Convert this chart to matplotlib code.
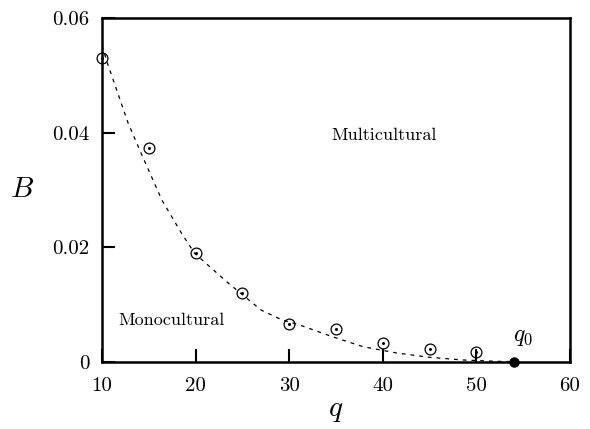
import numpy as np
import matplotlib
matplotlib.use('Agg')
import matplotlib.pyplot as plt

plt.rcParams.update({
    "font.family": "serif",
    "font.serif": ["cmr10", "DejaVu Serif"],
    "mathtext.fontset": "cm",
    "axes.formatter.use_mathtext": True,
})

# simulation points
q_pts = [10, 15, 20, 25, 30, 35, 40, 45, 50]
B_pts = [0.0531, 0.0373, 0.0189, 0.0119, 0.0066, 0.0057, 0.0032, 0.0022, 0.0016]

# dashed fit curve
curve_q = [10, 10.6, 12.8, 14.2, 16.4, 18.5, 19.9, 23.5, 27.0, 29.2, 31.1,
           34.7, 37.9, 41.5, 45.0, 48.6, 52.2, 54]
curve_B = [0.0552, 0.0520, 0.0416, 0.0363, 0.0282, 0.0224, 0.0189, 0.0137,
           0.0090, 0.0073, 0.0064, 0.0043, 0.0026, 0.0015, 0.00075, 0.00028,
           0.00005, 0.0]

q0 = 54

xticks = [10, 20, 30, 40, 50, 60]
yticks = [0, 0.02, 0.04, 0.06]
ytick_labels = ['0', '0.02', '0.04', '0.06']

fig = plt.figure(figsize=(5.9, 4.29), dpi=100)
ax = fig.add_axes([0.1729, 0.1571, 0.7932, 0.8009])

ax.plot(curve_q, curve_B, color='black', lw=0.9, ls=(0, (3, 4)))
ax.plot(q_pts, B_pts, 'o', ms=7.8, mfc='none', mec='black', mew=0.9, clip_on=False)
ax.plot(q_pts, B_pts, 'o', ms=1.2, color='black', clip_on=False)
ax.plot([q0], [0], 'o', ms=6.5, color='black', clip_on=False, zorder=5)

ax.text(34.5, 0.0395, 'Multicultural', fontsize=13, va='center', ha='left')
ax.text(11.7, 0.0072, 'Monocultural', fontsize=13, va='center', ha='left')
ax.text(55.0, 0.0043, r'$q_0$', fontsize=17, va='center', ha='center')

ax.set_xlim(10, 60)
ax.set_ylim(0, 0.06)
ax.set_xticks(xticks)
ax.set_xticklabels([str(v) for v in xticks])
ax.set_yticks(yticks)
ax.set_yticklabels(ytick_labels)
ax.tick_params(direction='in', length=9.5, width=1.5, labelsize=15, pad=9)
ax.tick_params(axis='x', pad=11)
for s in ax.spines.values():
    s.set_linewidth(1.8)

fig.text(22 / 590, 1 - 190 / 429, r'$B$', fontsize=21, ha='center', va='center')
fig.text(336 / 590, 1 - 411 / 429, r'$q$', fontsize=21, ha='center', va='center')

plt.savefig('out.png', dpi=100)
